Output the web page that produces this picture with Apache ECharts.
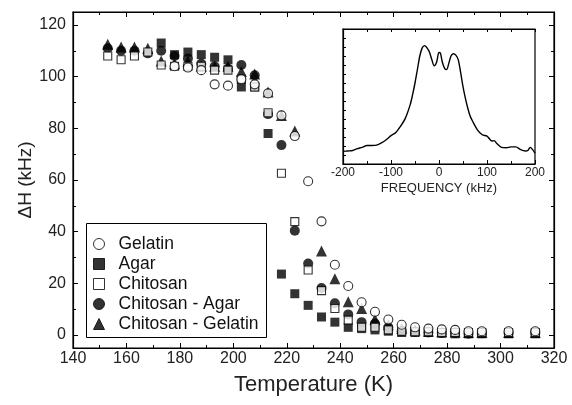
<!DOCTYPE html>
<html><head><meta charset="utf-8">
<script src="https://cdn.jsdelivr.net/npm/echarts@6/dist/echarts.min.js"></script>
<style>html,body{margin:0;padding:0;background:#fff}#c{width:572px;height:405px}</style>
</head><body><div id="c"></div>
<script>
// Temperatures (K) and ΔH (kHz) for each sample
const gelatinT = [178,183,188,193,198,203,208,213,218,223,228,233,238,243,248,253,258,263,268,273,278,283,288,293,303,313];
const gelatinH = [104,103.5,102.5,97,96.5,99,97,93.5,85,77,59.5,44,27.2,19,12.7,9,6,4,3,2.5,2.2,2,1.5,1.5,1.5,1.5];
const agarT = [173,178,183,188,193,198,203,208,213,218,223,228,233,238,243,248,253,258,263,268,273,278,283,288,293,303,313];
const agarH = [113,108.5,109.5,108.5,107.5,106.5,96,96,78,23.6,16,11.5,7,5,3,2.5,2,1.5,1,1,1,0.7,0.5,0.5,0.5,0.5,0.5];
const chitosanT = [153,158,163,168,173,178,183,188,193,198,203,208,213,218,223,228,233,238,243,248,253,258,263,268,273,278,283,288,293,303,313];
const chitosanH = [108,106.5,108,109.5,104.5,104,104,104,102.5,102.5,99,96,86,62.6,43.9,25.2,17.2,10.3,5.8,3,3,2,1.5,1.3,1.3,1,1,1,1,1,1];
const chAgarT = [153,158,163,168,173,178,183,188,193,198,203,208,213,218,223,228,233,238,243,248,253,258,263,268,273,278,283,288,293,303,313];
const chAgarH = [111,110,110,109,110,108,107,105,104,103,104.5,100.5,85.5,73.5,40.4,27.7,18.2,12.3,8,5,4.5,3,1.5,1.3,1,0.8,0.8,0.5,0.7,0.8,0.8];
const chGelT = [153,158,163,168,173,178,183,188,193,198,203,208,213,218,223,233,238,243,248,253,258,263,268,273,278,283,288,293,303,313];
const chGelH = [112.5,111.5,111.5,111,106,105,106,104,104,104,102,101,94,85,79,32.5,21.8,12.9,10.3,6.1,4,2.5,2,1.5,1.3,1.2,1,1,1,1];
// Inset spectrum
const freq = [-200,-190,-180,-170,-160,-150,-140,-130,-120,-110,-100,-90,-80,-70,-60,-55,-50,-45,-40,-35,-30,-25,-20,-15,-10,-5,0,3,7,12,16,20,25,30,35,40,45,50,55,60,65,70,80,90,100,105,110,115,120,130,140,150,160,170,180,185,190,195,200];
const intensity = [1.4,1.45,1.5,1.7,1.85,2.05,2.05,2.1,2.35,2.7,3.15,3.5,4.2,5.1,6.6,7.7,9.0,10.5,12.0,12.9,13.15,12.9,12.45,11.6,10.9,11.3,12.4,12.3,11.3,10.6,10.5,11.1,12.0,12.25,12.1,11.6,10.2,8.6,7.3,6.2,5.3,4.75,3.8,3.25,3.1,2.8,2.55,2.6,2.3,1.85,1.8,1.9,1.9,1.6,1.45,1.5,1.85,1.6,1.2];
const legendNames = ['Gelatin','Agar','Chitosan','Chitosan - Agar','Chitosan - Gelatin'];

const pair = (a,b)=>a.map((v,i)=>[v,b[i]]);
const FONT = 'Liberation Sans, Arial, sans-serif';
const chart = echarts.init(document.getElementById('c'), null, {renderer:'canvas'});
const open = {color:'#fff', borderColor:'#000', borderWidth:1.1};
const fill = {color:'#000', borderColor:'#000', borderWidth:0};
const axLine = {onZero:false, lineStyle:{color:'#000', width:1.2}};
const noLine = {show:false, onZero:false};
chart.setOption({
  animation:false,
  backgroundColor:'#fff',
  textStyle:{fontFamily:FONT},
  grid:[
    {left:73, right:18, top:12, bottom:57, show:true, borderColor:'#000', borderWidth:1.2, backgroundColor:'transparent'},
    {left:343, right:37, top:29, bottom:241, show:true, borderColor:'#000', borderWidth:1.2, backgroundColor:'#fff', z:10}
  ],
  xAxis:[
    {gridIndex:0, type:'value', min:140, max:320, interval:20, axisLine:axLine,
     axisTick:{inside:true, length:5, lineStyle:{color:'#000'}},
     minorTick:{show:true, splitNumber:2, length:3, lineStyle:{color:'#000'}},
     axisLabel:{fontSize:16, color:'#222', margin:3, fontFamily:FONT},
     splitLine:{show:false},
     name:'Temperature (K)', nameLocation:'middle', nameGap:26, nameMoveOverlap:false,
     nameTextStyle:{fontSize:22, color:'#222', fontFamily:FONT}},
    {gridIndex:0, type:'value', position:'top', min:140, max:320, interval:20, axisLine:axLine,
     axisTick:{inside:true, length:5, lineStyle:{color:'#000'}},
     minorTick:{show:true, splitNumber:2, length:3, lineStyle:{color:'#000'}},
     axisLabel:{show:false}, splitLine:{show:false}},
    {gridIndex:1, type:'value', min:-200, max:200, interval:100, z:11, axisLine:axLine,
     axisTick:{inside:true, length:4, lineStyle:{color:'#000'}},
     minorTick:{show:true, splitNumber:2, length:3, lineStyle:{color:'#000'}},
     axisLabel:{fontSize:12, color:'#222', margin:3, fontFamily:FONT},
     splitLine:{show:false},
     name:'FREQUENCY (kHz)', nameLocation:'middle', nameGap:18,
     nameTextStyle:{fontSize:13, color:'#222', fontFamily:FONT}},
    {gridIndex:1, type:'value', position:'top', min:-200, max:200, interval:50, z:11, axisLine:axLine,
     axisTick:{inside:true, length:3, lineStyle:{color:'#000'}},
     axisLabel:{show:false}, splitLine:{show:false}}
  ],
  yAxis:[
    {gridIndex:0, type:'value', min:-5, max:125, interval:20,
     axisLine:axLine,
     axisTick:{inside:true, length:5, lineStyle:{color:'#000'}, customValues:[0,20,40,60,80,100,120]},
     minorTick:{show:false},
     axisLabel:{fontSize:16, color:'#222', margin:7, fontFamily:FONT, customValues:[0,20,40,60,80,100,120]},
     splitLine:{show:false},
     name:'ΔH (kHz)', nameLocation:'middle', nameGap:38, nameMoveOverlap:false,
     nameTextStyle:{fontSize:19, color:'#222', fontFamily:FONT}},
    {gridIndex:0, type:'value', min:-5, max:125, position:'right', axisLine:axLine,
     axisTick:{inside:true, length:5, lineStyle:{color:'#000'}, customValues:[0,20,40,60,80,100,120]},
     axisLabel:{show:false}, splitLine:{show:false}},
    {gridIndex:0, type:'value', min:-5, max:125, position:'left', axisLine:noLine,
     axisTick:{inside:true, length:3, lineStyle:{color:'#000'}, customValues:[10,30,50,70,90,110]},
     axisLabel:{show:false}, splitLine:{show:false}},
    {gridIndex:0, type:'value', min:-5, max:125, position:'right', axisLine:noLine,
     axisTick:{inside:true, length:3, lineStyle:{color:'#000'}, customValues:[10,30,50,70,90,110]},
     axisLabel:{show:false}, splitLine:{show:false}},
    {gridIndex:1, type:'value', min:0, max:15, interval:1, z:11, axisLine:axLine,
     axisTick:{inside:true, length:3, lineStyle:{color:'#000'}},
     axisLabel:{show:false}, splitLine:{show:false}}
  ],
  legend:{
    data:legendNames, orient:'vertical', left:88, top:229,
    itemWidth:11, itemHeight:11, itemGap:0, selectedMode:false,
    itemStyle:{borderWidth:1},
    textStyle:{fontSize:17.5, color:'#111', lineHeight:20, padding:[0,0,0,9], fontFamily:FONT}
  },
  graphic:[{type:'rect', shape:{x:86.5, y:223.5, width:180, height:114}, style:{fill:'none', stroke:'#000', lineWidth:1}, z:5}],
  series:[
    {name:'Agar', type:'scatter', xAxisIndex:0, yAxisIndex:0, symbol:'rect', symbolSize:9, itemStyle:fill, data:pair(agarT,agarH)},
    {name:'Chitosan - Agar', type:'scatter', xAxisIndex:0, yAxisIndex:0, symbol:'circle', symbolSize:10, itemStyle:fill, data:pair(chAgarT,chAgarH)},
    {name:'Chitosan - Gelatin', type:'scatter', xAxisIndex:0, yAxisIndex:0, symbol:'triangle', symbolSize:11, itemStyle:fill, data:pair(chGelT,chGelH)},
    {name:'Chitosan', type:'scatter', xAxisIndex:0, yAxisIndex:0, symbol:'rect', symbolSize:8, itemStyle:open, data:pair(chitosanT,chitosanH)},
    {name:'Gelatin', type:'scatter', xAxisIndex:0, yAxisIndex:0, symbol:'circle', symbolSize:9, itemStyle:open, data:pair(gelatinT,gelatinH)},
    {name:'spectrum', type:'line', xAxisIndex:2, yAxisIndex:4, showSymbol:false, smooth:0.3, z:12,
     lineStyle:{color:'#000', width:1.4}, data:pair(freq,intensity)}
  ]
});
</script></body></html>
